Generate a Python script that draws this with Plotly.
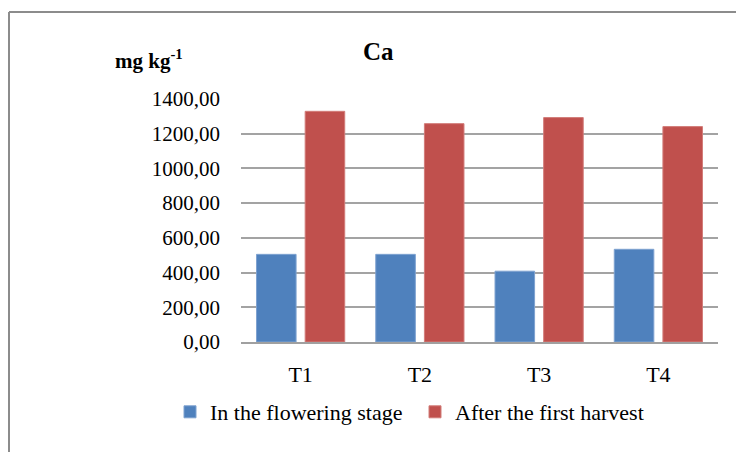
import plotly.graph_objects as go

# Calcium content per treatment
treatments = ["T1", "T2", "T3", "T4"]
flowering = [505, 505, 408, 534]
after_harvest = [1329, 1258, 1293, 1241]
tick_vals = [0, 200, 400, 600, 800, 1000, 1200, 1400]
tick_text = ["0,00", "200,00", "400,00", "600,00", "800,00", "1000,00", "1200,00", "1400,00"]

W, H = 736, 452
ML, MR, MT, MB = 241, 18, 99, 110
PW, PH = W - ML - MR, H - MT - MB


def px_x(x):
    return (x - ML) / PW


def px_y(y):
    return (H - MB - y) / PH


serif = "Liberation Serif, Times New Roman, serif"

fig = go.Figure()
fig.add_trace(go.Bar(
    x=treatments, y=flowering, name="In the flowering stage",
    marker=dict(color="#4F81BD", line=dict(color="#7EA2D0", width=1)),
))
fig.add_trace(go.Bar(
    x=treatments, y=after_harvest, name="After the first harvest",
    marker=dict(color="#C0504D", line=dict(color="#D27C79", width=1)),
))

fig.update_layout(
    width=W, height=H,
    margin=dict(l=ML, r=MR, t=MT, b=MB),
    paper_bgcolor="white", plot_bgcolor="white",
    barmode="group", bargap=0.184, bargroupgap=0.187,
    font=dict(family=serif, color="black", size=21),
    showlegend=True,
    legend=dict(orientation="h", x=px_x(170), xanchor="left",
                y=px_y(412), yanchor="middle",
                font=dict(family=serif, size=22, color="black"),
                entrywidth=200, entrywidthmode="pixels",
                itemwidth=30, tracegroupgap=0, bgcolor="rgba(0,0,0,0)"),
    xaxis=dict(showgrid=False, showline=True, linecolor="#A0A0A0", linewidth=2,
               ticks="", tickfont=dict(family=serif, size=22), ticklabelstandoff=12,
               fixedrange=True),
    yaxis=dict(range=[0, 1400], tickvals=tick_vals, ticktext=tick_text,
               showgrid=True, gridcolor="#A3A3A3", gridwidth=2,
               zeroline=False, showline=False, ticks="",
               tickfont=dict(family=serif, size=21), ticklabelstandoff=20,
               fixedrange=True),
    shapes=[
        # outer chart frame (top and left edges)
        dict(type="line", xref="paper", yref="paper",
             x0=px_x(9), x1=px_x(W + 20), y0=px_y(12), y1=px_y(12),
             line=dict(color="#8C8C8C", width=2)),
        dict(type="line", xref="paper", yref="paper",
             x0=px_x(9), x1=px_x(9), y0=px_y(12), y1=px_y(H + 20),
             line=dict(color="#8C8C8C", width=2)),
    ],
    annotations=[
        dict(text="<b>Ca</b>", xref="paper", yref="paper",
             x=px_x(378), y=px_y(51), xanchor="center", yanchor="middle",
             showarrow=False, font=dict(family=serif, size=25, color="black")),
        dict(text="<b>mg kg<sup>-1</sup></b>", xref="paper", yref="paper",
             x=px_x(149), y=px_y(60), xanchor="center", yanchor="middle",
             showarrow=False, font=dict(family=serif, size=21, color="black")),
    ],
)

fig.write_html("out.html")
